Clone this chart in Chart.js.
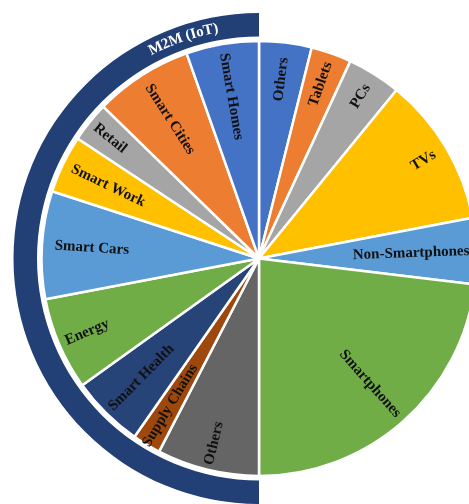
<!DOCTYPE html>
<html>
<head>
<meta charset="utf-8">
<script src="https://cdn.jsdelivr.net/npm/chart.js@4/dist/chart.umd.min.js"></script>
<style>
  html, body { margin: 0; padding: 0; background: #ffffff; overflow: hidden; }
  #wrap { width: 469px; height: 504px; overflow: hidden; position: relative; }
  canvas { display: block; }
</style>
</head>
<body>
<div id="wrap"><canvas id="c" width="518" height="504"></canvas></div>
<script>
// Right half: device types (clockwise from top)
const deviceLabels = ['Others', 'Tablets', 'PCs', 'TVs', 'Non-Smartphones', 'Smartphones'];
const deviceValues = [3.9, 3.0, 4.0, 11.1, 4.9, 23.1];
// Left half: M2M (IoT) applications (clockwise from bottom)
const m2mLabels = ['Others', 'Supply Chains', 'Smart Health', 'Energy', 'Smart Cars', 'Smart Work', 'Retail', 'Smart Cities', 'Smart Homes'];
const m2mValues = [7.6, 2.1, 5.4, 6.9, 8.0, 4.3, 3.0, 7.3, 5.4];
const groupTitle = 'M2M (IoT)';

// styling
const deviceColors = ['#4472C4', '#ED7D31', '#A5A5A5', '#FFC000', '#5B9BD5', '#70AD47'];
const m2mColors = ['#656565', '#9E480E', '#264478', '#70AD47', '#5B9BD5', '#FFC000', '#A5A5A5', '#ED7D31', '#4472C4'];
const ringColor = '#223F76';
const labelRadiusFrac = [0.83, 0.85, 0.88, 0.88, 0.70, 0.77,
                         0.875, 0.79, 0.77, 0.86, 0.77, 0.77, 0.88, 0.76, 0.755];

const sum = a => a.reduce((s, v) => s + v, 0);
const allLabels = deviceLabels.concat(m2mLabels);
const allValues = deviceValues.concat(m2mValues);
const allColors = deviceColors.concat(m2mColors);

const labelPlugin = {
  id: 'sliceLabels',
  afterDatasetsDraw(chart) {
    const ctx = chart.ctx;
    const meta = chart.getDatasetMeta(2);
    ctx.save();
    ctx.font = 'bold 15px "Liberation Serif", "Times New Roman", serif';
    ctx.fillStyle = '#111111';
    ctx.textAlign = 'center';
    ctx.textBaseline = 'middle';
    meta.data.forEach((arc, i) => {
      const p = arc.getProps(['x', 'y', 'startAngle', 'endAngle', 'outerRadius']);
      const mid = (p.startAngle + p.endAngle) / 2;
      const r = p.outerRadius * labelRadiusFrac[i];
      const px = p.x + Math.cos(mid) * r;
      const py = p.y + Math.sin(mid) * r;
      let rot = mid;
      if (Math.cos(mid) < -1e-6) rot += Math.PI;
      ctx.save();
      ctx.translate(px, py);
      ctx.rotate(rot);
      ctx.fillText(allLabels[i], 0, 0);
      ctx.restore();
    });
    // curved group title on the outer ring
    const ring = chart.getDatasetMeta(0).data[1];
    const rp = ring.getProps(['x', 'y', 'innerRadius', 'outerRadius']);
    const rr = (rp.innerRadius + rp.outerRadius) / 2;
    ctx.font = 'bold 15px "Liberation Serif", "Times New Roman", serif';
    ctx.fillStyle = '#ffffff';
    const centerAng = -109 * Math.PI / 180;
    const widths = [...groupTitle].map(ch => ctx.measureText(ch).width);
    const total = sum(widths);
    let acc = 0;
    const start = centerAng - (total / rr) / 2;
    [...groupTitle].forEach((ch, k) => {
      const a = start + (acc + widths[k] / 2) / rr;
      acc += widths[k];
      ctx.save();
      ctx.translate(rp.x + Math.cos(a) * rr, rp.y + Math.sin(a) * rr);
      ctx.rotate(a + Math.PI / 2);
      ctx.fillText(ch, 0, 0);
      ctx.restore();
    });
    ctx.restore();
  }
};

new Chart(document.getElementById('c'), {
  type: 'pie',
  data: {
    labels: allLabels,
    datasets: [
      {
        data: [sum(deviceValues), sum(m2mValues)],
        backgroundColor: ['rgba(0,0,0,0)', ringColor],
        borderWidth: 0,
        weight: 23.5
      },
      {
        data: [sum(deviceValues), sum(m2mValues)],
        backgroundColor: ['rgba(0,0,0,0)', 'rgba(0,0,0,0)'],
        borderWidth: 0,
        weight: 4.5
      },
      {
        data: allValues,
        backgroundColor: allColors,
        borderColor: '#ffffff',
        borderWidth: 2.5,
        weight: 217.5
      }
    ]
  },
  options: {
    responsive: false,
    animation: false,
    events: [],
    layout: { padding: { top: 13, bottom: 0, left: 0, right: 0 } },
    plugins: {
      legend: { display: false },
      tooltip: { enabled: false },
      title: { display: false }
    }
  },
  plugins: [labelPlugin]
});
</script>
</body>
</html>
